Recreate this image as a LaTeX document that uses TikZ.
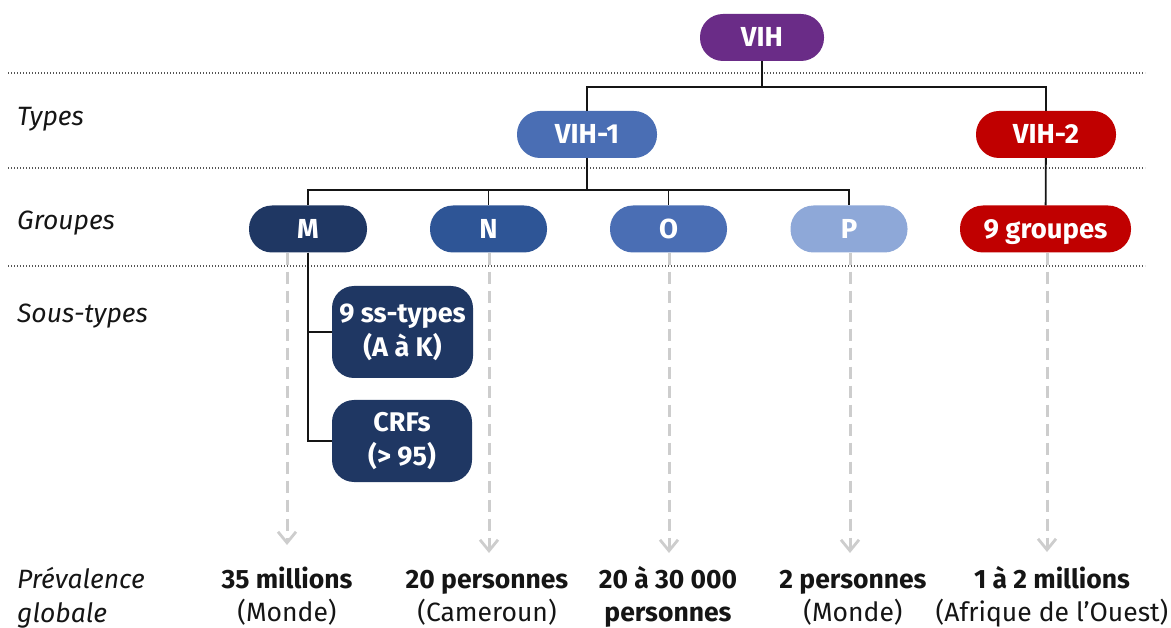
\documentclass[tikz,border=0pt]{standalone}
\usepackage{fontspec}
\setmainfont{Fira Sans}
\usetikzlibrary{arrows.meta}
\definecolor{cpurple}{HTML}{6A2C87}
\definecolor{cblue}{HTML}{4A6EB4}
\definecolor{cmid}{HTML}{2E5596}
\definecolor{cnavy}{HTML}{1F3763}
\definecolor{clight}{HTML}{8EA8D8}
\definecolor{cred}{HTML}{C00000}
\definecolor{cgray}{HTML}{CDCDCD}
\definecolor{cdot}{HTML}{555555}
\definecolor{ctext}{HTML}{151515}
\begin{document}
\begin{tikzpicture}[x=1pt,y=-1pt,
  pill/.style={rounded corners=23pt, text=white, inner sep=0pt, minimum height=47pt,
    font=\fontsize{27.5}{30}\selectfont\bfseries, text height=19pt, text depth=0pt},
  tallbox/.style={rounded corners=22pt, text=white, inner sep=0pt, fill=cnavy,
    font=\fontsize{27}{34}\selectfont\bfseries, align=center},
  conn/.style={line width=1.8pt, draw=ctext},
  dotline/.style={line width=1.3pt, draw=cdot, dash pattern=on 1.4pt off 1.6pt},
  garrow/.style={line width=3pt, draw=cgray, dash pattern=on 12pt off 7pt,
    -{Straight Barb[length=11pt,width=18pt,line width=2.8pt]}},
  rowlabel/.style={anchor=base west, inner sep=0pt, text=ctext,
    font=\fontsize{26.5}{34}\selectfont\itshape, align=left},
  prev/.style={anchor=base, inner sep=0pt, text=ctext,
    font=\fontsize{26.5}{32.5}\selectfont, align=center}
]
\useasboundingbox (0,0) rectangle (1171,628);

% dotted separators
\draw[dotline] (8,73) -- (1145,73);
\draw[dotline] (8,168) -- (1145,168);
\draw[dotline] (8,266) -- (1145,266);

% row labels
\node[rowlabel] (lt) at (17,126) {Types};
\node[rowlabel] (lg) at (17,230) {Groupes};
\node[rowlabel] (ls) at (17,323) {Sous-types};
\node[rowlabel] (lp) at (17,622) {Prévalence\\globale};

% boxes
\node[pill, fill=cpurple, minimum width=124pt] (VIH) at (762,37.5) {VIH};
\node[pill, fill=cblue, minimum width=140pt] (V1) at (587,134.5) {VIH-1};
\node[pill, fill=cred, minimum width=140pt] (V2) at (1046,134.5) {VIH-2};
\node[pill, fill=cnavy, minimum width=118pt] (M) at (308,229) {M};
\node[pill, fill=cmid, minimum width=117pt] (N) at (488.5,229) {N};
\node[pill, fill=cblue, minimum width=117pt] (O) at (668.5,229) {O};
\node[pill, fill=clight, minimum width=117pt] (P) at (849,229) {P};
\node[pill, fill=cred, minimum width=171pt] (G9) at (1045.5,229) {9 groupes};
\node[tallbox, minimum width=141pt, minimum height=92pt] (SS) at (402.5,332) {9 ss-types\\(A à K)};
\node[tallbox, minimum width=140pt, minimum height=82pt] (CRF) at (402,441) {CRFs\\(> 95)};

% prevalence texts
\node[prev] (p1) at (287,621) {\textbf{35 millions}\\(Monde)};
\node[prev] (p2) at (487,621) {\textbf{20 personnes}\\(Cameroun)};
\node[prev] (p3) at (668,621) {\textbf{20 à 30 000}\\\textbf{personnes}};
\node[prev] (p4) at (853,621) {\textbf{2 personnes}\\(Monde)};
\node[prev] (p5) at (1052,621) {\textbf{1 à 2 millions}\\(Afrique de l'Ouest)};

% tree connectors
\coordinate (j1) at (762,87);
\coordinate (j2) at (587,190);
\draw[conn] (VIH) -- (j1) -| (V1.north);
\draw[conn] (j1) -| (V2.north);
\draw[conn] (V1) -- (j2) -| (M.north);
\draw[conn] (j2) -| (N.north);
\draw[conn] (j2) -| (O.north);
\draw[conn] (j2) -| (P.north);
\draw[conn] (V2) -- (G9);
\draw[conn] (M.south) |- (SS.west);
\draw[conn] (M.south) |- (CRF.west);

% dashed gray arrows
\coordinate (t1) at (287,545);
\coordinate (t2) at (489,553);
\coordinate (t3) at (669,553);
\coordinate (t4) at (850,553);
\coordinate (t5) at (1047,552);
\draw[garrow] (M.south -| t1) -- (t1);
\draw[garrow] (N.south -| t2) -- (t2);
\draw[garrow] (O.south -| t3) -- (t3);
\draw[garrow] (P.south -| t4) -- (t4);
\draw[garrow] (G9.south -| t5) -- (t5);
\end{tikzpicture}
\end{document}
